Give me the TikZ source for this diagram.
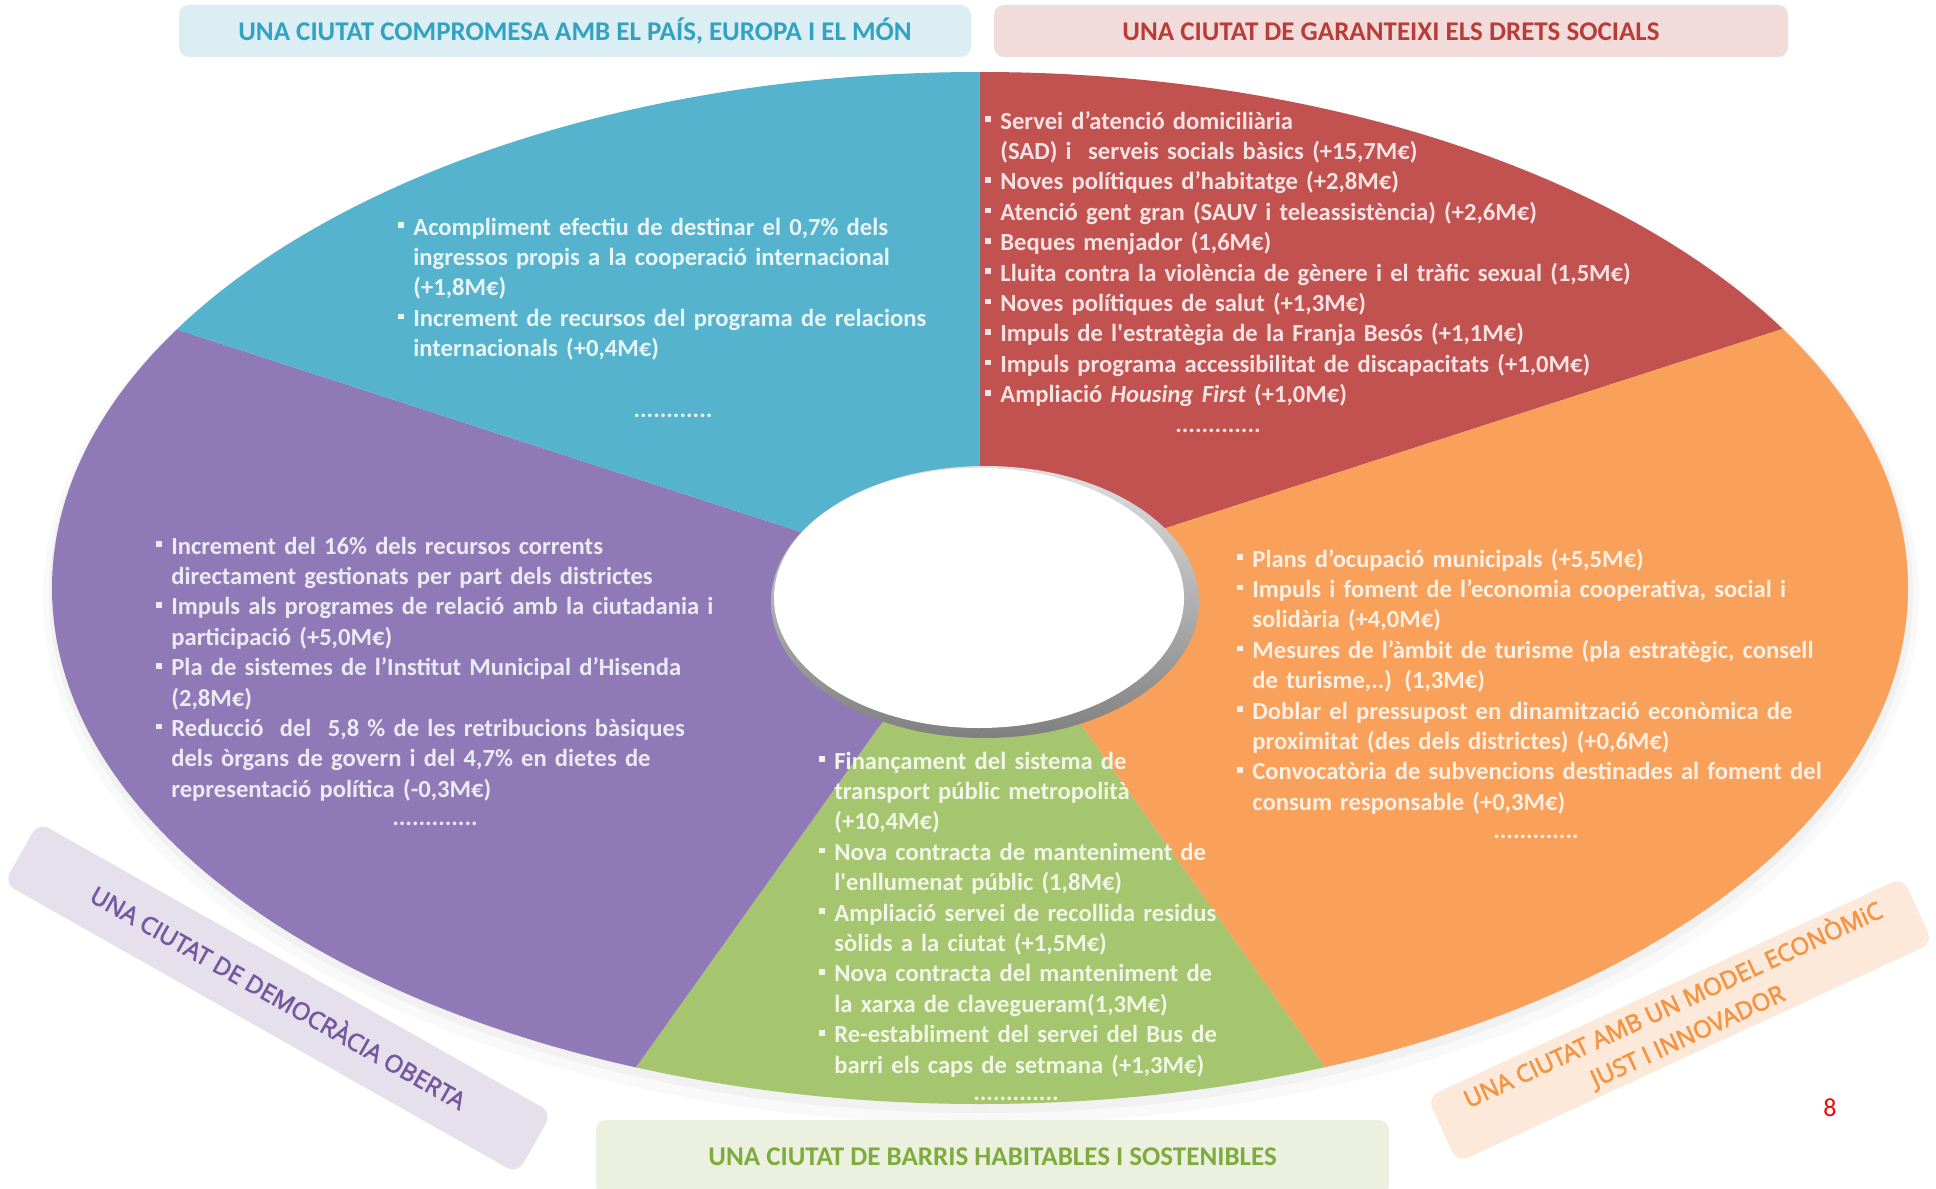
\documentclass[tikz,border=0pt]{standalone}
\usepackage{fontspec}
\setmainfont{Carlito}
\newfontfamily\osans{Open Sans}[FakeBold=2.5]
\usetikzlibrary{calc}
\definecolor{cblue}{RGB}{86,179,205}
\definecolor{cred}{RGB}{194,82,79}
\definecolor{corange}{RGB}{249,160,90}
\definecolor{cgreen}{RGB}{165,198,110}
\definecolor{cpurple}{RGB}{143,122,183}
\definecolor{tblue}{RGB}{50,162,194}
\definecolor{tred}{RGB}{186,60,55}
\definecolor{tgreen}{RGB}{125,172,60}
\definecolor{tpurple}{RGB}{118,88,160}
\definecolor{torange}{RGB}{245,148,66}
\definecolor{fblue}{RGB}{218,238,243}
\definecolor{fred}{RGB}{242,220,219}
\definecolor{fgreen}{RGB}{235,241,222}
\definecolor{fpurple}{RGB}{229,224,236}
\definecolor{forange}{RGB}{253,233,217}
\newcommand\bul{\makebox[7.5pt][l]{\rule[3.5pt]{2.8pt}{2.8pt}}}
\newcommand\ind{\hspace*{7.5pt}}
\newcommand\sq{\textquotesingle}
\tikzset{
  sectext/.style={font=\fontsize{12.3}{15.2}\selectfont\bfseries, text width=440pt, align=left, inner sep=0pt, anchor=base west},
  dotline/.style={font=\fontsize{12.3}{15.2}\selectfont\bfseries, inner sep=0pt, anchor=base},
  titlebox/.style={rounded corners=5pt, inner sep=0pt, text height=10pt, text depth=0pt, font=\fontsize{13.5}{15}\selectfont\bfseries},
  diagbox/.style={rounded corners=6pt, inner sep=0pt, font=\osans\fontsize{12}{17.2}\selectfont, align=center},
}
\begin{document}
\begin{tikzpicture}[x=0.5pt,y=-0.5pt]
\useasboundingbox (0,0) rectangle (1936,1188);
\fill[white] (0,0) rectangle (1936,1188);

\coordinate (H) at (980,600);
\coordinate (I2) at (1166,528);
\coordinate (I3) at (1087,733);
\coordinate (I4) at (878,728);
\coordinate (I5) at (801,532);
\coordinate (E1) at (980,-100);
\coordinate (E2) at (2024,251);
\coordinate (E3) at (1420,1201);
\coordinate (E4) at (539,1203);
\coordinate (E5) at (-71,249);

% soft shadow
\fill[black,opacity=0.025] (981,598) ellipse [x radius=938, y radius=526];
\fill[black,opacity=0.03] (981,593) ellipse [x radius=932, y radius=520];

\begin{scope}
\clip (980,588) ellipse [x radius=928, y radius=516];
\fill[cred] (H) -- (E1) -- (2100,-100) -- (2100,251) -- (E2) -- (I2) -- cycle;
\fill[corange] (H) -- (I2) -- (E2) -- (2100,251) -- (2100,1300) -- (1420,1300) -- (E3) -- (I3) -- cycle;
\fill[cgreen] (H) -- (I3) -- (E3) -- (1420,1300) -- (539,1300) -- (E4) -- (I4) -- cycle;
\fill[cpurple] (H) -- (I4) -- (E4) -- (539,1300) -- (-150,1300) -- (-150,249) -- (E5) -- (I5) -- cycle;
\fill[cblue] (H) -- (I5) -- (E5) -- (-150,249) -- (-150,-100) -- (E1) -- cycle;
\end{scope}

% hole
\shade[top color=black!12, bottom color=black!50] (985,602) ellipse [x radius=214, y radius=136];
\fill[white] (979,598) ellipse [x radius=205, y radius=130];

% section texts
\node[sectext, text=white!86!cblue] (sblue) at (398,235) {%
\bul Acompliment efectiu de destinar el 0,7\% dels\\
\ind ingressos propis a la cooperació internacional\\
\ind (+1,8M€)\\
\bul Increment de recursos del programa de relacions\\
\ind internacionals (+0,4M€)};
\node[dotline, text=white!86!cblue] (dblue) at (673,417) {............};

\node[sectext, text=white!84!cred] (sred) at (985,129) {%
\bul Servei d’atenció domiciliària\\
\ind (SAD) i\ \ serveis socials bàsics (+15,7M€)\\
\bul Noves polítiques d’habitatge (+2,8M€)\\
\bul Atenció gent gran (SAUV i teleassistència) (+2,6M€)\\
\bul Beques menjador (1,6M€)\\
\bul Lluita contra la violència de gènere i el tràfic sexual (1,5M€)\\
\bul Noves polítiques de salut (+1,3M€)\\
\bul Impuls de l\sq estratègia de la Franja Besós (+1,1M€)\\
\bul Impuls programa accessibilitat de discapacitats (+1,0M€)\\
\bul Ampliació \textit{Housing First} (+1,0M€)};
\node[dotline, text=white!84!cred] (dred) at (1218,432) {.............};

\node[sectext, text=white!84!corange] (sorange) at (1237,567) {%
\bul Plans d’ocupació municipals (+5,5M€)\\
\bul Impuls i foment de l’economia cooperativa, social i\\
\ind solidària (+4,0M€)\\
\bul Mesures de l’àmbit de turisme (pla estratègic, consell\\
\ind de turisme,..) (1,3M€)\\
\bul Doblar el pressupost en dinamització econòmica de\\
\ind proximitat (des dels districtes) (+0,6M€)\\
\bul Convocatòria de subvencions destinades al foment del\\
\ind consum responsable (+0,3M€)};
\node[dotline, text=white!84!corange] (dorangedots) at (1536,838) {.............};

\node[sectext, text=white!84!cgreen] (sgreen) at (819,769) {%
\bul Finançament del sistema de\\
\ind transport públic metropolità\\
\ind (+10,4M€)\\
\bul Nova contracta de manteniment de\\
\ind l\sq enllumenat públic (1,8M€)\\
\bul Ampliació servei de recollida residus\\
\ind sòlids a la ciutat (+1,5M€)\\
\bul Nova contracta del manteniment de\\
\ind la xarxa de clavegueram(1,3M€)\\
\bul Re-establiment del servei del Bus de\\
\ind barri els caps de setmana (+1,3M€)};
\node[dotline, text=white!84!cgreen] (dgreen) at (1016,1100) {.............};

\node[sectext, text=white!84!cpurple] (spurple) at (156,554) {%
\bul Increment del 16\% dels recursos corrents\\
\ind directament gestionats per part dels districtes\\
\bul Impuls als programes de relació amb la ciutadania i\\
\ind participació (+5,0M€)\\
\bul Pla de sistemes de l’Institut Municipal d’Hisenda\\
\ind (2,8M€)\\
\bul Reducció\ \ del\ \ 5,8 \% de les retribucions bàsiques\\
\ind dels òrgans de govern i del 4,7\% en dietes de\\
\ind representació política (-0,3M€)};
\node[dotline, text=white!84!cpurple] (dpurpledots) at (435,825) {.............};

% titles
\node[titlebox, fill=fblue, text=tblue, minimum width=396pt, minimum height=26pt] (tblue) at (575,31) {UNA CIUTAT COMPROMESA AMB EL PAÍS, EUROPA I EL MÓN};
\node[titlebox, fill=fred, text=tred, minimum width=397pt, minimum height=26pt] (tred) at (1391,31) {UNA CIUTAT DE GARANTEIXI ELS DRETS SOCIALS};
\node[titlebox, fill=fgreen, text=tgreen, minimum width=396.5pt, minimum height=37pt, text height=8pt] (tgreen) at (992.5,1157) {UNA CIUTAT DE BARRIS HABITABLES I SOSTENIBLES};
\node[diagbox, fill=fpurple, text=tpurple, rotate=-29.5, minimum width=295pt, minimum height=35pt, text height=8.6pt, text depth=0pt] (tpurple) at (278,998) {UNA CIUTAT DE DEMOCRÀCIA OBERTA};
\node[diagbox, fill=forange, text=torange, rotate=24.8, minimum width=262pt, minimum height=36pt] (torange) at (1680,1020) {UNA CIUTAT AMB UN MODEL ECONÒMiC\\JUST I INNOVADOR};

\node[font=\fontsize{13}{15}\selectfont, text=red, inner sep=0pt] (pnum) at (1830,1108) {8};
\end{tikzpicture}
\end{document}
